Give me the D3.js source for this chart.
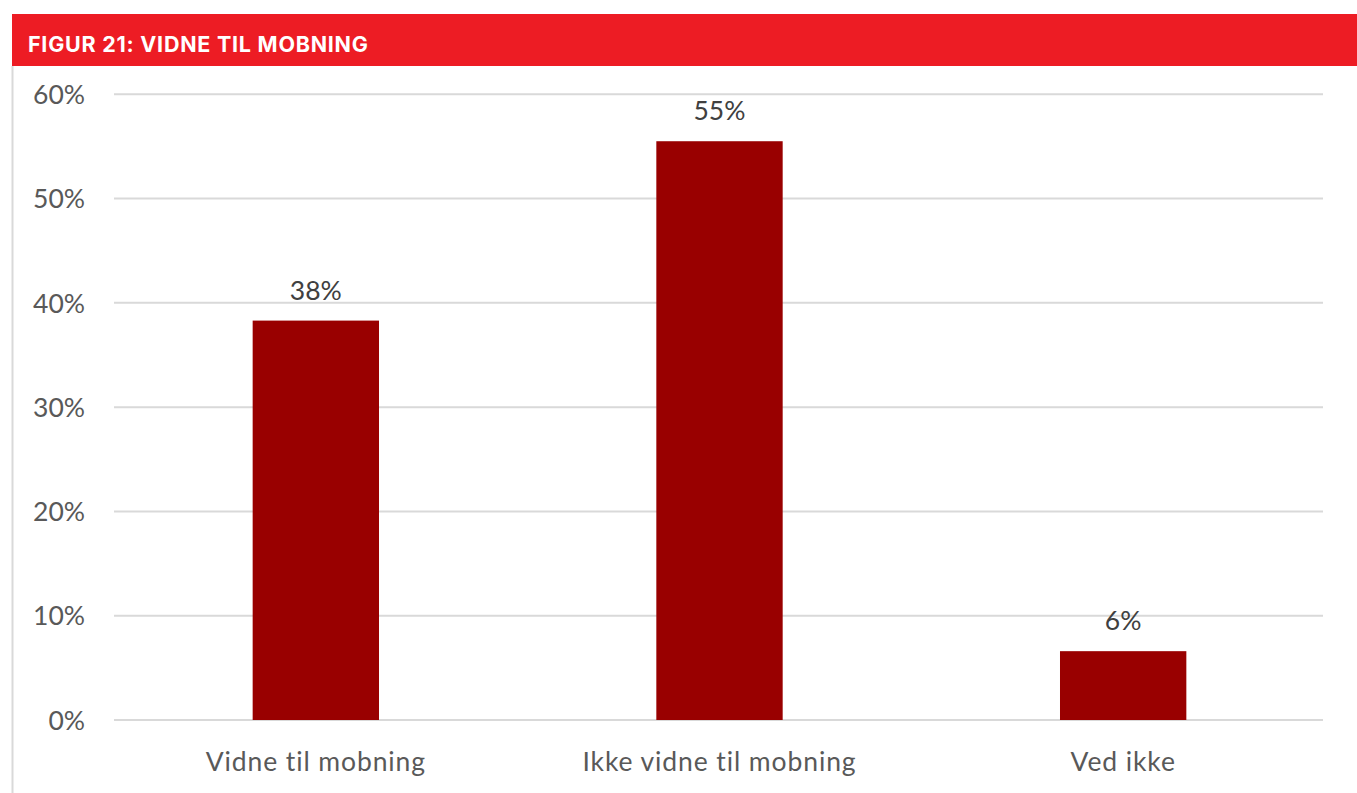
<!DOCTYPE html>
<html><head><meta charset="utf-8">
<script src="https://cdn.jsdelivr.net/npm/d3@7"></script>
<style>body{margin:0;background:#fff;} svg{display:block;}</style>
</head><body>
<script>
const title = "FIGUR 21: VIDNE TIL MOBNING";
const categories = ["Vidne til mobning", "Ikke vidne til mobning", "Ved ikke"];
const values = [38.3, 55.5, 6.6];
const valueLabels = ["38%", "55%", "6%"];
const yTicks = [0, 10, 20, 30, 40, 50, 60];

const W = 1357, H = 793;
const svg = d3.select("body").append("svg").attr("width", W).attr("height", H);

// header
svg.append("rect").attr("x", 12).attr("y", 14).attr("width", W - 12).attr("height", 52).attr("fill", "#ed1c24");
svg.append("text").attr("x", 28).attr("y", 52).text(title)
  .attr("fill", "#fff").attr("font-family", "Inter, Roboto, sans-serif").attr("font-weight", 700)
  .attr("font-size", 21.5).attr("letter-spacing", 0.75);
// left border
svg.append("line").attr("x1", 12.5).attr("x2", 12.5).attr("y1", 66).attr("y2", H).attr("stroke", "#d9d9d9").attr("stroke-width", 2);

const x = d3.scaleBand().domain(categories).range([114, 1325]).paddingInner(0.687).paddingOuter(0.3435);
const y = d3.scaleLinear().domain([0, 60]).range([720, 94.3]);

const font = "Lato, 'Open Sans', sans-serif";

// gridlines
svg.append("g").selectAll("line").data(yTicks).join("line")
  .attr("x1", 114).attr("x2", 1323).attr("y1", d => y(d)).attr("y2", d => y(d))
  .attr("stroke", "#d9d9d9").attr("stroke-width", 2);

// y axis labels
const yAxis = d3.axisLeft(y).tickValues(yTicks).tickFormat(d => d + "%").tickSize(0).tickPadding(0);
const gy = svg.append("g").attr("transform", "translate(85,0)").call(yAxis);
gy.select(".domain").remove();
gy.selectAll("text").attr("font-family", font).attr("font-size", 26.5).attr("fill", "#595959").attr("dy", "0.35em");

// bars
svg.append("g").selectAll("rect").data(values).join("rect")
  .attr("x", (d, i) => x(categories[i])).attr("width", x.bandwidth())
  .attr("y", d => y(d)).attr("height", d => y(0) - y(d)).attr("fill", "#990000");

// value labels
svg.append("g").selectAll("text").data(values).join("text")
  .attr("x", (d, i) => x(categories[i]) + x.bandwidth() / 2).attr("y", d => y(d) - 21)
  .attr("text-anchor", "middle").attr("font-family", font).attr("font-size", 26.5).attr("fill", "#404040")
  .text((d, i) => valueLabels[i]);

// x axis labels
const xAxis = d3.axisBottom(x).tickSize(0).tickPadding(0);
const gx = svg.append("g").attr("transform", "translate(0,771)").call(xAxis);
gx.select(".domain").remove();
gx.selectAll("text").attr("font-family", font).attr("font-size", 26.5).attr("letter-spacing", 0.9).attr("fill", "#595959").attr("dy", 0);
</script>
</body></html>
